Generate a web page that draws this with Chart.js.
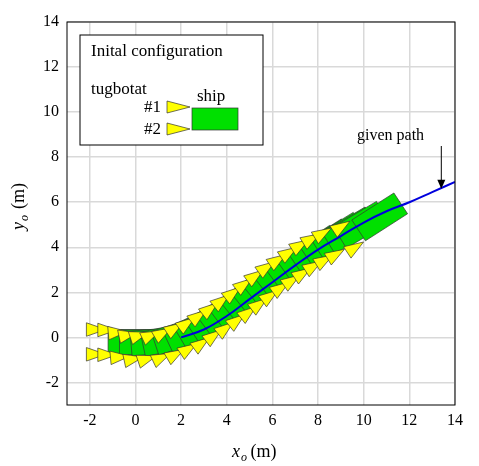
<!DOCTYPE html>
<html><head><meta charset="utf-8">
<script src="https://cdn.jsdelivr.net/npm/chart.js@4"></script>
<style>html,body{margin:0;background:#fff}#c{display:block}</style>
</head><body>
<div style="width:479px;height:466px"><canvas id="c"></canvas></div>
<script>
// given path (blue line)
const pathX = [2, 3, 4, 5, 6, 7, 8, 9, 10, 11, 12, 13, 14];
const pathY = [0, 0.35, 0.95, 1.7, 2.45, 3.2, 3.9, 4.5, 5.1, 5.6, 6.0, 6.45, 6.9];

// ship poses: centre x, centre y, heading (deg)
const shipX = [-0.1, 0.4, 0.9, 1.4, 1.9, 2.4, 2.9, 3.4, 3.9, 4.4, 4.9, 5.4, 5.9, 6.4, 6.9, 7.4, 7.9, 8.4, 8.9, 9.4, 9.9, 10.7];
const shipY = [-0.2, -0.22, -0.18, -0.08, 0.08, 0.3, 0.55, 0.85, 1.15, 1.5, 1.85, 2.2, 2.55, 2.9, 3.25, 3.6, 3.9, 4.2, 4.5, 4.75, 5.0, 5.35];
const shipHeading = [0, 0, 5, 12, 18, 25, 30, 33, 36, 37, 38, 38, 38, 37, 36, 35, 34, 33, 32, 31, 31, 33];

const xTicks = [-2, 0, 2, 4, 6, 8, 10, 12, 14];
const yTicks = [-2, 0, 2, 4, 6, 8, 10, 12, 14];

const FONT = '"Liberation Serif", "DejaVu Serif", serif';
const SHIP_L = 2.2, SHIP_W = 1.1;

// polygon in ship frame -> pixels
function poly (ctx, sx, sy, pts, cx, cy, th) {
    const c = Math.cos(th), s = Math.sin(th);
    ctx.beginPath();
    pts.forEach(([u, v], i) => {
        const px = sx.getPixelForValue(cx + u * c - v * s), py = sy.getPixelForValue(cy + u * s + v * c);
        i ? ctx.lineTo(px, py) : ctx.moveTo(px, py);
    });
    ctx.closePath(); ctx.fill(); ctx.stroke();
}

const shipsPlugin = {
    id: 'ships',
    beforeDatasetsDraw (chart) {
        const ctx = chart.ctx, sx = chart.scales.x, sy = chart.scales.y;
        ctx.save();
        ctx.beginPath(); ctx.rect(chart.chartArea.left, chart.chartArea.top, chart.chartArea.width, chart.chartArea.height); ctx.clip();
        ctx.lineWidth = 0.7; ctx.strokeStyle = '#333';
        const h = SHIP_L / 2, w = SHIP_W / 2;
        for (let i = 0; i < shipX.length; i++) {
            const th = shipHeading[i] * Math.PI / 180;
            ctx.fillStyle = '#00e000';
            poly(ctx, sx, sy, [[-h, -w], [h, -w], [h, w], [-h, w]], shipX[i], shipY[i], th);
        }
        for (let i = 0; i < shipX.length; i++) {
            const th = shipHeading[i] * Math.PI / 180;
            ctx.fillStyle = '#ffff00';
            for (const side of [1, -1]) {
                const v = side * 0.55;
                poly(ctx, sx, sy, [[-h - 0.95, v + 0.3], [-h - 0.95, v - 0.3], [-h - 0.1, v]], shipX[i], shipY[i], th);
            }
        }
        ctx.restore();
    },
    afterDraw (chart) {
        const ctx = chart.ctx, a = chart.chartArea, sx = chart.scales.x, sy = chart.scales.y;
        ctx.save();
        ctx.strokeStyle = '#000'; ctx.lineWidth = 1;
        ctx.strokeRect(a.left, a.top, a.width, a.height);
        // legend box
        ctx.fillStyle = '#fff'; ctx.fillRect(80, 35, 183, 110); ctx.strokeRect(80, 35, 183, 110);
        ctx.fillStyle = '#000'; ctx.font = '17px ' + FONT; ctx.textBaseline = 'middle';
        ctx.fillText('Inital configuration', 91, 52);
        ctx.fillText('tugbotat', 91, 90);
        ctx.fillText('#1', 144, 108);
        ctx.fillText('#2', 144, 130);
        ctx.fillText('ship', 197, 97);
        ctx.lineWidth = 0.7; ctx.strokeStyle = '#333'; ctx.fillStyle = '#ffff00';
        for (const yy of [107, 129]) {
            ctx.beginPath(); ctx.moveTo(167, yy - 6); ctx.lineTo(167, yy + 6); ctx.lineTo(190, yy); ctx.closePath(); ctx.fill(); ctx.stroke();
        }
        ctx.fillStyle = '#00e000'; ctx.fillRect(192, 108, 46, 22); ctx.strokeRect(192, 108, 46, 22);
        // given path annotation
        ctx.fillStyle = '#000'; ctx.font = '16px ' + FONT;
        ctx.fillText('given path', 357, 136);
        const ax = sx.getPixelForValue(13.4), ay = sy.getPixelForValue(6.55);
        ctx.strokeStyle = '#000'; ctx.lineWidth = 1;
        ctx.beginPath(); ctx.moveTo(ax, 146); ctx.lineTo(ax, ay - 2); ctx.stroke();
        ctx.beginPath(); ctx.moveTo(ax - 4, ay - 10); ctx.lineTo(ax + 4, ay - 10); ctx.lineTo(ax, ay - 1); ctx.closePath(); ctx.fill();
        // axis titles
        ctx.textBaseline = 'alphabetic';
        ctx.font = 'italic 18px ' + FONT; ctx.fillText('x', 232, 457);
        ctx.font = 'italic 12px ' + FONT; ctx.fillText('o', 241, 461);
        ctx.font = '18px ' + FONT; ctx.fillText(' (m)', 246, 457);
        ctx.translate(24, 214); ctx.rotate(-Math.PI / 2);
        ctx.textAlign = 'center';
        ctx.font = 'italic 18px ' + FONT; ctx.fillText('y', -12, 0);
        ctx.font = 'italic 12px ' + FONT; ctx.fillText('o', -4, 4);
        ctx.font = '18px ' + FONT; ctx.fillText('(m)', 18, 0);
        ctx.restore();
    }
};

new Chart('c', {
    type: 'scatter',
    data: {
        datasets: [{
            data: pathX.map((x, i) => ({x: x, y: pathY[i]})),
            showLine: true, borderColor: '#0000dd', borderWidth: 2, pointRadius: 0, tension: 0.4
        }]
    },
    options: {
        animation: false, responsive: true, maintainAspectRatio: false,
        layout: {padding: {top: 22, right: 24, left: 0, bottom: 0}},
        plugins: {legend: {display: false}, tooltip: {enabled: false}},
        scales: {
            x: {
                min: -3, max: 14,
                afterBuildTicks: (s) => { s.ticks = xTicks.map(v => ({value: v})); },
                afterFit: (s) => { s.height = 61; },
                grid: {color: '#d9d9d9', lineWidth: 1.5, tickLength: 0},
                border: {display: false},
                ticks: {color: '#000', font: {family: FONT, size: 16}, padding: 6, maxRotation: 0}
            },
            y: {
                min: -3, max: 14,
                afterBuildTicks: (s) => { s.ticks = yTicks.map(v => ({value: v})); },
                afterFit: (s) => { s.width = 67; },
                grid: {color: '#d9d9d9', lineWidth: 1.5, tickLength: 0},
                border: {display: false},
                ticks: {color: '#000', font: {family: FONT, size: 16}, padding: 8}
            }
        }
    },
    plugins: [shipsPlugin]
});
</script>
</body></html>
